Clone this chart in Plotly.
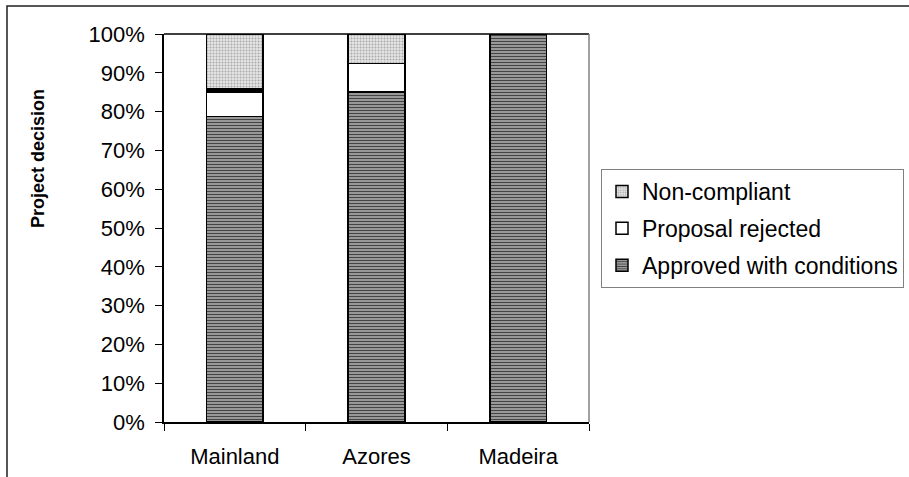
import plotly.graph_objects as go

categories = ["Mainland", "Azores", "Madeira"]
approved = [78.7, 85.1, 100.0]
rejected = [6.4, 7.3, None]
other_band = [0.9, None, None]
noncompliant = [14.0, 7.6, None]
y_ticks = list(range(0, 101, 10))
y_tick_labels = [f"{v}%" for v in y_ticks]

FONT = "Liberation Sans, Arial, sans-serif"
W, H = 909, 477
L, R, T, B = 164, 909 - 589, 34, 477 - 422
PW, PH = W - L - R, H - T - B

def px_x(x):
    return (x - L) / PW

def px_y(y):
    return (H - B - y) / PH

line = dict(color="black", width=1.5)

fig = go.Figure()
fig.add_trace(go.Bar(
    x=categories, y=approved, name="Approved with conditions",
    legendrank=3, legendgroup="a",
    marker=dict(color="#9a9a9a", line=line,
                pattern=dict(shape="-", bgcolor="#aaaaaa", fgcolor="#444444",
                             size=3, solidity=0.45, fillmode="replace")),
))
fig.add_trace(go.Bar(
    x=categories, y=rejected, name="Proposal rejected",
    legendrank=2, legendgroup="b",
    marker=dict(color="white", line=line),
))
fig.add_trace(go.Bar(
    x=categories, y=other_band, name="", showlegend=False,
    marker=dict(color="black", line=dict(color="black", width=1)),
))
fig.add_trace(go.Bar(
    x=categories, y=noncompliant, name="Non-compliant",
    legendrank=1, legendgroup="c",
    marker=dict(color="#dedede", line=line,
                pattern=dict(shape=".", bgcolor="#e6e6e6", fgcolor="#aaaaaa",
                             size=3, solidity=0.35, fillmode="replace")),
))

fig.update_layout(
    width=W, height=H,
    margin=dict(l=L, r=R, t=T, b=B, autoexpand=False),
    barmode="stack", bargap=0.6,
    plot_bgcolor="white", paper_bgcolor="white",
    font=dict(family=FONT, size=22, color="black"),
    showlegend=True,
    legend=dict(
        x=px_x(601), y=px_y(169), xanchor="left", yanchor="top",
        traceorder="grouped", tracegroupgap=4,
        bordercolor="#808080", borderwidth=1, bgcolor="white",
        font=dict(family=FONT, size=23, color="black"),
        itemwidth=30,
    ),
    xaxis=dict(
        showline=True, linecolor="black", linewidth=1.5,
        ticks="outside", ticklen=7, tickcolor="black", tickson="boundaries",
        showgrid=False, mirror=False, ticklabelstandoff=14,
        tickfont=dict(family=FONT, size=22, color="black"),
    ),
    yaxis=dict(
        range=[0, 100], tickvals=y_ticks, ticktext=y_tick_labels,
        showline=True, linecolor="black", linewidth=1.5,
        ticks="outside", ticklen=7, tickcolor="black",
        showgrid=False, zeroline=False, ticklabelstandoff=6,
        tickfont=dict(family=FONT, size=22, color="black"),
    ),
    shapes=[
        dict(type="line", xref="paper", yref="paper", x0=0, x1=1, y0=1, y1=1,
             line=dict(color="black", width=1.5)),
        dict(type="line", xref="paper", yref="paper", x0=1, x1=1, y0=0, y1=1,
             line=dict(color="#808080", width=1.5)),
        dict(type="rect", xref="paper", yref="paper",
             x0=px_x(7), x1=px_x(1000), y0=px_y(560), y1=px_y(6),
             line=dict(color="#202020", width=1.5), layer="below"),
    ],
    annotations=[
        dict(text="<b>Project decision</b>", textangle=-90,
             xref="paper", yref="paper", x=px_x(38), y=px_y(159),
             xanchor="center", yanchor="middle", showarrow=False,
             font=dict(family=FONT, size=18, color="black")),
    ],
)

fig.write_html("out.html", config={"displayModeBar": False},
               post_script="document.body.style.margin='0px';")
